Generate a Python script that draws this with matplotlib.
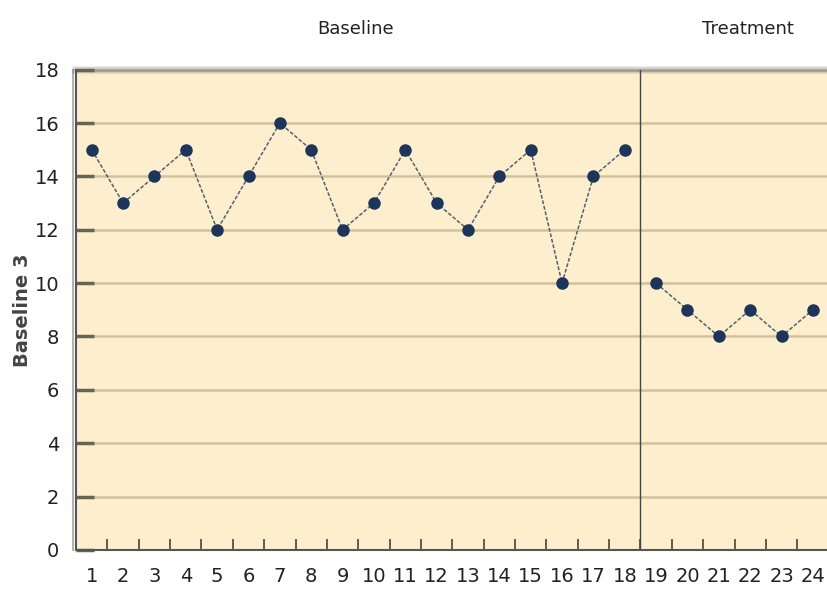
import matplotlib.pyplot as plt
import numpy as np
from matplotlib import patheffects

plt.rcParams['font.family'] = ['DejaVu Sans']

# session numbers and scores for each phase
baseline_sessions = list(range(1, 19))
baseline_scores = [15, 13, 14, 15, 12, 14, 16, 15, 12, 13, 15, 13, 12, 14, 15, 10, 14, 15]
treatment_sessions = list(range(19, 25))
treatment_scores = [10, 9, 8, 9, 8, 9]
y_ticks = list(range(0, 19, 2))
phase_labels = ["Baseline", "Treatment"]
y_label = "Baseline 3"

fig = plt.figure(figsize=(8.27, 6.01), dpi=100)
ax = fig.add_axes([0.092, 0.085, 0.908, 0.799])
ax.set_facecolor('#fdefcd')

# soft drop shadow on top and left edges
for i, a in enumerate([0.35, 0.2, 0.1]):
    ax.axhline(18, color='#555555', lw=2 + 2 * i, alpha=a, zorder=1, clip_on=False)
ax.spines['left'].set_path_effects([patheffects.SimpleLineShadow(offset=(-2, 0), alpha=0.3),
                                    patheffects.Normal()])

for y in y_ticks[1:-1]:
    ax.axhline(y, color='#d2c19f', lw=1.8, zorder=1)

ax.axvline(18.5, color='#444444', lw=1, zorder=2)

line_style = dict(color='#55606e', lw=1.1, ls=(0, (2.5, 1.2)), marker='o',
                  markersize=8, markerfacecolor='#1d355a', markeredgecolor='#1d355a', zorder=3)
ax.plot(baseline_sessions, baseline_scores, **line_style)
ax.plot(treatment_sessions, treatment_scores, **line_style)

ax.set_xlim(0.5, 24.45)
ax.set_ylim(0, 18)
ax.set_yticks(y_ticks)
ax.set_xticks(baseline_sessions + treatment_sessions)
ax.set_xticks(np.arange(1.5, 24.5, 1), minor=True)
ax.tick_params(axis='x', which='major', length=0, pad=12, labelsize=14, labelcolor='#222222')
ax.tick_params(axis='x', which='minor', direction='in', length=8, width=1.2, color='#444444')
ax.tick_params(axis='y', direction='in', length=13, width=2.5, color='#666655', labelsize=14,
               pad=12, labelcolor='#222222')

for side in ['top', 'right']:
    ax.spines[side].set_visible(False)
ax.spines['left'].set_color('#555555')
ax.spines['left'].set_linewidth(1.5)
ax.spines['bottom'].set_color('#555555')
ax.spines['bottom'].set_linewidth(1.5)

ax.set_ylabel(y_label, fontsize=14, color='#444444', labelpad=2, fontweight='semibold')

fig.text(0.43, 0.952, phase_labels[0], fontsize=13, ha='center', va='center', color='#222222')
fig.text(0.905, 0.952, phase_labels[1], fontsize=13, ha='center', va='center', color='#222222')

fig.savefig('out.png', dpi=100)
